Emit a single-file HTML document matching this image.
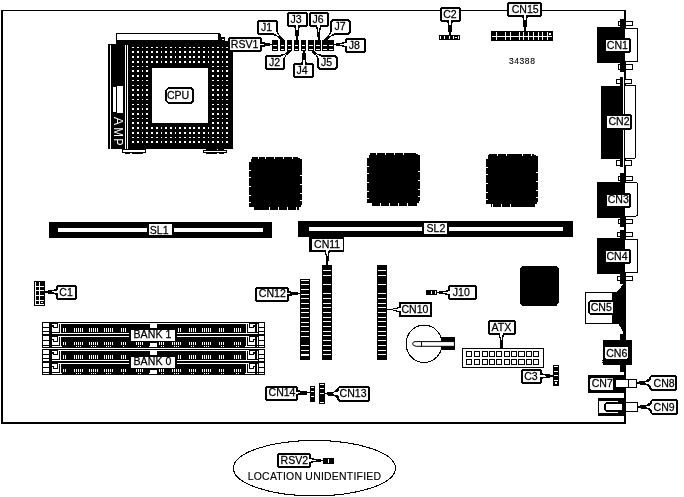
<!DOCTYPE html>
<html><head><meta charset="utf-8"><title>Motherboard layout</title>
<style>
html,body{margin:0;padding:0;background:#fff;}
body{width:684px;height:497px;overflow:hidden;font-family:"Liberation Sans",sans-serif;}
svg{display:block;filter:grayscale(1);}
svg rect,svg polygon,svg ellipse{shape-rendering:crispEdges;}
svg text{font-family:"Liberation Sans",sans-serif;}
</style></head><body>
<svg width="684" height="497" viewBox="0 0 684 497">
<rect x="0" y="0" width="684" height="497" fill="#fff"/>
<rect x="1" y="10" width="2" height="414" fill="#000"/>
<rect x="1" y="10" width="625" height="1.2" fill="#000"/>
<rect x="624" y="10" width="2" height="414" fill="#000"/>
<rect x="1" y="422" width="625" height="2" fill="#000"/>
<rect x="116" y="33" width="104" height="8" fill="#000"/>
<rect x="117" y="34" width="101" height="6" fill="#fff"/>
<rect x="220" y="34" width="1" height="7" fill="#000"/>
<rect x="221" y="37" width="4" height="4" fill="#000"/>
<rect x="222" y="39" width="2" height="1" fill="#fff"/>
<rect x="116" y="40" width="109" height="4" fill="#000"/>
<rect x="225" y="41" width="8" height="3" fill="#000"/>
<rect x="128" y="44" width="105" height="105" fill="#000"/>
<rect x="108" y="44" width="20.4" height="105" fill="#000"/>
<rect x="109.8" y="45" width="1.1" height="104" fill="#fff"/>
<rect x="125" y="45" width="1" height="104" fill="#fff"/>
<rect x="127.3" y="45" width="1" height="104" fill="#fff"/>
<rect x="113.2" y="87.2" width="2.8" height="24.4" fill="#fff"/>
<rect x="117" y="86.1" width="6.1" height="26.5" fill="#fff"/>
<rect x="132.3" y="46.7" width="1.75" height="1.6" fill="#fff"/>
<rect x="137.01" y="46.7" width="1.75" height="1.6" fill="#fff"/>
<rect x="141.71" y="46.7" width="1.75" height="1.6" fill="#fff"/>
<rect x="146.42" y="46.7" width="1.75" height="1.6" fill="#fff"/>
<rect x="151.12" y="46.7" width="1.75" height="1.6" fill="#fff"/>
<rect x="155.83" y="46.7" width="1.75" height="1.6" fill="#fff"/>
<rect x="160.53" y="46.7" width="1.75" height="1.6" fill="#fff"/>
<rect x="165.24" y="46.7" width="1.75" height="1.6" fill="#fff"/>
<rect x="169.94" y="46.7" width="1.75" height="1.6" fill="#fff"/>
<rect x="174.65" y="46.7" width="1.75" height="1.6" fill="#fff"/>
<rect x="179.35" y="46.7" width="1.75" height="1.6" fill="#fff"/>
<rect x="184.06" y="46.7" width="1.75" height="1.6" fill="#fff"/>
<rect x="188.76" y="46.7" width="1.75" height="1.6" fill="#fff"/>
<rect x="193.47" y="46.7" width="1.75" height="1.6" fill="#fff"/>
<rect x="198.17" y="46.7" width="1.75" height="1.6" fill="#fff"/>
<rect x="202.88" y="46.7" width="1.75" height="1.6" fill="#fff"/>
<rect x="207.58" y="46.7" width="1.75" height="1.6" fill="#fff"/>
<rect x="212.29" y="46.7" width="1.75" height="1.6" fill="#fff"/>
<rect x="216.99" y="46.7" width="1.75" height="1.6" fill="#fff"/>
<rect x="221.69" y="46.7" width="1.75" height="1.6" fill="#fff"/>
<rect x="226.4" y="46.7" width="1.75" height="1.6" fill="#fff"/>
<rect x="132.3" y="51.44" width="1.75" height="1.6" fill="#fff"/>
<rect x="137.01" y="51.44" width="1.75" height="1.6" fill="#fff"/>
<rect x="141.71" y="51.44" width="1.75" height="1.6" fill="#fff"/>
<rect x="146.42" y="51.44" width="1.75" height="1.6" fill="#fff"/>
<rect x="151.12" y="51.44" width="1.75" height="1.6" fill="#fff"/>
<rect x="155.83" y="51.44" width="1.75" height="1.6" fill="#fff"/>
<rect x="160.53" y="51.44" width="1.75" height="1.6" fill="#fff"/>
<rect x="165.24" y="51.44" width="1.75" height="1.6" fill="#fff"/>
<rect x="169.94" y="51.44" width="1.75" height="1.6" fill="#fff"/>
<rect x="174.65" y="51.44" width="1.75" height="1.6" fill="#fff"/>
<rect x="179.35" y="51.44" width="1.75" height="1.6" fill="#fff"/>
<rect x="184.06" y="51.44" width="1.75" height="1.6" fill="#fff"/>
<rect x="188.76" y="51.44" width="1.75" height="1.6" fill="#fff"/>
<rect x="193.47" y="51.44" width="1.75" height="1.6" fill="#fff"/>
<rect x="198.17" y="51.44" width="1.75" height="1.6" fill="#fff"/>
<rect x="202.88" y="51.44" width="1.75" height="1.6" fill="#fff"/>
<rect x="207.58" y="51.44" width="1.75" height="1.6" fill="#fff"/>
<rect x="212.29" y="51.44" width="1.75" height="1.6" fill="#fff"/>
<rect x="216.99" y="51.44" width="1.75" height="1.6" fill="#fff"/>
<rect x="221.69" y="51.44" width="1.75" height="1.6" fill="#fff"/>
<rect x="226.4" y="51.44" width="1.75" height="1.6" fill="#fff"/>
<rect x="132.3" y="56.17" width="1.75" height="1.6" fill="#fff"/>
<rect x="137.01" y="56.17" width="1.75" height="1.6" fill="#fff"/>
<rect x="141.71" y="56.17" width="1.75" height="1.6" fill="#fff"/>
<rect x="146.42" y="56.17" width="1.75" height="1.6" fill="#fff"/>
<rect x="151.12" y="56.17" width="1.75" height="1.6" fill="#fff"/>
<rect x="155.83" y="56.17" width="1.75" height="1.6" fill="#fff"/>
<rect x="160.53" y="56.17" width="1.75" height="1.6" fill="#fff"/>
<rect x="165.24" y="56.17" width="1.75" height="1.6" fill="#fff"/>
<rect x="169.94" y="56.17" width="1.75" height="1.6" fill="#fff"/>
<rect x="174.65" y="56.17" width="1.75" height="1.6" fill="#fff"/>
<rect x="179.35" y="56.17" width="1.75" height="1.6" fill="#fff"/>
<rect x="184.06" y="56.17" width="1.75" height="1.6" fill="#fff"/>
<rect x="188.76" y="56.17" width="1.75" height="1.6" fill="#fff"/>
<rect x="193.47" y="56.17" width="1.75" height="1.6" fill="#fff"/>
<rect x="198.17" y="56.17" width="1.75" height="1.6" fill="#fff"/>
<rect x="202.88" y="56.17" width="1.75" height="1.6" fill="#fff"/>
<rect x="207.58" y="56.17" width="1.75" height="1.6" fill="#fff"/>
<rect x="212.29" y="56.17" width="1.75" height="1.6" fill="#fff"/>
<rect x="216.99" y="56.17" width="1.75" height="1.6" fill="#fff"/>
<rect x="221.69" y="56.17" width="1.75" height="1.6" fill="#fff"/>
<rect x="226.4" y="56.17" width="1.75" height="1.6" fill="#fff"/>
<rect x="132.3" y="60.91" width="1.75" height="1.6" fill="#fff"/>
<rect x="137.01" y="60.91" width="1.75" height="1.6" fill="#fff"/>
<rect x="141.71" y="60.91" width="1.75" height="1.6" fill="#fff"/>
<rect x="146.42" y="60.91" width="1.75" height="1.6" fill="#fff"/>
<rect x="151.12" y="60.91" width="1.75" height="1.6" fill="#fff"/>
<rect x="155.83" y="60.91" width="1.75" height="1.6" fill="#fff"/>
<rect x="160.53" y="60.91" width="1.75" height="1.6" fill="#fff"/>
<rect x="165.24" y="60.91" width="1.75" height="1.6" fill="#fff"/>
<rect x="169.94" y="60.91" width="1.75" height="1.6" fill="#fff"/>
<rect x="174.65" y="60.91" width="1.75" height="1.6" fill="#fff"/>
<rect x="179.35" y="60.91" width="1.75" height="1.6" fill="#fff"/>
<rect x="184.06" y="60.91" width="1.75" height="1.6" fill="#fff"/>
<rect x="188.76" y="60.91" width="1.75" height="1.6" fill="#fff"/>
<rect x="193.47" y="60.91" width="1.75" height="1.6" fill="#fff"/>
<rect x="198.17" y="60.91" width="1.75" height="1.6" fill="#fff"/>
<rect x="202.88" y="60.91" width="1.75" height="1.6" fill="#fff"/>
<rect x="207.58" y="60.91" width="1.75" height="1.6" fill="#fff"/>
<rect x="212.29" y="60.91" width="1.75" height="1.6" fill="#fff"/>
<rect x="216.99" y="60.91" width="1.75" height="1.6" fill="#fff"/>
<rect x="221.69" y="60.91" width="1.75" height="1.6" fill="#fff"/>
<rect x="226.4" y="60.91" width="1.75" height="1.6" fill="#fff"/>
<rect x="132.3" y="65.64" width="1.75" height="1.6" fill="#fff"/>
<rect x="137.01" y="65.64" width="1.75" height="1.6" fill="#fff"/>
<rect x="141.71" y="65.64" width="1.75" height="1.6" fill="#fff"/>
<rect x="146.42" y="65.64" width="1.75" height="1.6" fill="#fff"/>
<rect x="212.29" y="65.64" width="1.75" height="1.6" fill="#fff"/>
<rect x="216.99" y="65.64" width="1.75" height="1.6" fill="#fff"/>
<rect x="221.69" y="65.64" width="1.75" height="1.6" fill="#fff"/>
<rect x="226.4" y="65.64" width="1.75" height="1.6" fill="#fff"/>
<rect x="132.3" y="70.38" width="1.75" height="1.6" fill="#fff"/>
<rect x="137.01" y="70.38" width="1.75" height="1.6" fill="#fff"/>
<rect x="141.71" y="70.38" width="1.75" height="1.6" fill="#fff"/>
<rect x="146.42" y="70.38" width="1.75" height="1.6" fill="#fff"/>
<rect x="212.29" y="70.38" width="1.75" height="1.6" fill="#fff"/>
<rect x="216.99" y="70.38" width="1.75" height="1.6" fill="#fff"/>
<rect x="221.69" y="70.38" width="1.75" height="1.6" fill="#fff"/>
<rect x="226.4" y="70.38" width="1.75" height="1.6" fill="#fff"/>
<rect x="132.3" y="75.11" width="1.75" height="1.6" fill="#fff"/>
<rect x="137.01" y="75.11" width="1.75" height="1.6" fill="#fff"/>
<rect x="141.71" y="75.11" width="1.75" height="1.6" fill="#fff"/>
<rect x="146.42" y="75.11" width="1.75" height="1.6" fill="#fff"/>
<rect x="212.29" y="75.11" width="1.75" height="1.6" fill="#fff"/>
<rect x="216.99" y="75.11" width="1.75" height="1.6" fill="#fff"/>
<rect x="221.69" y="75.11" width="1.75" height="1.6" fill="#fff"/>
<rect x="226.4" y="75.11" width="1.75" height="1.6" fill="#fff"/>
<rect x="132.3" y="79.84" width="1.75" height="1.6" fill="#fff"/>
<rect x="137.01" y="79.84" width="1.75" height="1.6" fill="#fff"/>
<rect x="141.71" y="79.84" width="1.75" height="1.6" fill="#fff"/>
<rect x="146.42" y="79.84" width="1.75" height="1.6" fill="#fff"/>
<rect x="212.29" y="79.84" width="1.75" height="1.6" fill="#fff"/>
<rect x="216.99" y="79.84" width="1.75" height="1.6" fill="#fff"/>
<rect x="221.69" y="79.84" width="1.75" height="1.6" fill="#fff"/>
<rect x="226.4" y="79.84" width="1.75" height="1.6" fill="#fff"/>
<rect x="132.3" y="84.58" width="1.75" height="1.6" fill="#fff"/>
<rect x="137.01" y="84.58" width="1.75" height="1.6" fill="#fff"/>
<rect x="141.71" y="84.58" width="1.75" height="1.6" fill="#fff"/>
<rect x="146.42" y="84.58" width="1.75" height="1.6" fill="#fff"/>
<rect x="212.29" y="84.58" width="1.75" height="1.6" fill="#fff"/>
<rect x="216.99" y="84.58" width="1.75" height="1.6" fill="#fff"/>
<rect x="221.69" y="84.58" width="1.75" height="1.6" fill="#fff"/>
<rect x="226.4" y="84.58" width="1.75" height="1.6" fill="#fff"/>
<rect x="132.3" y="89.31" width="1.75" height="1.6" fill="#fff"/>
<rect x="137.01" y="89.31" width="1.75" height="1.6" fill="#fff"/>
<rect x="141.71" y="89.31" width="1.75" height="1.6" fill="#fff"/>
<rect x="146.42" y="89.31" width="1.75" height="1.6" fill="#fff"/>
<rect x="212.29" y="89.31" width="1.75" height="1.6" fill="#fff"/>
<rect x="216.99" y="89.31" width="1.75" height="1.6" fill="#fff"/>
<rect x="221.69" y="89.31" width="1.75" height="1.6" fill="#fff"/>
<rect x="226.4" y="89.31" width="1.75" height="1.6" fill="#fff"/>
<rect x="132.3" y="94.05" width="1.75" height="1.6" fill="#fff"/>
<rect x="137.01" y="94.05" width="1.75" height="1.6" fill="#fff"/>
<rect x="141.71" y="94.05" width="1.75" height="1.6" fill="#fff"/>
<rect x="146.42" y="94.05" width="1.75" height="1.6" fill="#fff"/>
<rect x="212.29" y="94.05" width="1.75" height="1.6" fill="#fff"/>
<rect x="216.99" y="94.05" width="1.75" height="1.6" fill="#fff"/>
<rect x="221.69" y="94.05" width="1.75" height="1.6" fill="#fff"/>
<rect x="226.4" y="94.05" width="1.75" height="1.6" fill="#fff"/>
<rect x="132.3" y="98.78" width="1.75" height="1.6" fill="#fff"/>
<rect x="137.01" y="98.78" width="1.75" height="1.6" fill="#fff"/>
<rect x="141.71" y="98.78" width="1.75" height="1.6" fill="#fff"/>
<rect x="146.42" y="98.78" width="1.75" height="1.6" fill="#fff"/>
<rect x="212.29" y="98.78" width="1.75" height="1.6" fill="#fff"/>
<rect x="216.99" y="98.78" width="1.75" height="1.6" fill="#fff"/>
<rect x="221.69" y="98.78" width="1.75" height="1.6" fill="#fff"/>
<rect x="226.4" y="98.78" width="1.75" height="1.6" fill="#fff"/>
<rect x="132.3" y="103.52" width="1.75" height="1.6" fill="#fff"/>
<rect x="137.01" y="103.52" width="1.75" height="1.6" fill="#fff"/>
<rect x="141.71" y="103.52" width="1.75" height="1.6" fill="#fff"/>
<rect x="146.42" y="103.52" width="1.75" height="1.6" fill="#fff"/>
<rect x="212.29" y="103.52" width="1.75" height="1.6" fill="#fff"/>
<rect x="216.99" y="103.52" width="1.75" height="1.6" fill="#fff"/>
<rect x="221.69" y="103.52" width="1.75" height="1.6" fill="#fff"/>
<rect x="226.4" y="103.52" width="1.75" height="1.6" fill="#fff"/>
<rect x="132.3" y="108.26" width="1.75" height="1.6" fill="#fff"/>
<rect x="137.01" y="108.26" width="1.75" height="1.6" fill="#fff"/>
<rect x="141.71" y="108.26" width="1.75" height="1.6" fill="#fff"/>
<rect x="146.42" y="108.26" width="1.75" height="1.6" fill="#fff"/>
<rect x="212.29" y="108.26" width="1.75" height="1.6" fill="#fff"/>
<rect x="216.99" y="108.26" width="1.75" height="1.6" fill="#fff"/>
<rect x="221.69" y="108.26" width="1.75" height="1.6" fill="#fff"/>
<rect x="226.4" y="108.26" width="1.75" height="1.6" fill="#fff"/>
<rect x="132.3" y="112.99" width="1.75" height="1.6" fill="#fff"/>
<rect x="137.01" y="112.99" width="1.75" height="1.6" fill="#fff"/>
<rect x="141.71" y="112.99" width="1.75" height="1.6" fill="#fff"/>
<rect x="146.42" y="112.99" width="1.75" height="1.6" fill="#fff"/>
<rect x="212.29" y="112.99" width="1.75" height="1.6" fill="#fff"/>
<rect x="216.99" y="112.99" width="1.75" height="1.6" fill="#fff"/>
<rect x="221.69" y="112.99" width="1.75" height="1.6" fill="#fff"/>
<rect x="226.4" y="112.99" width="1.75" height="1.6" fill="#fff"/>
<rect x="132.3" y="117.73" width="1.75" height="1.6" fill="#fff"/>
<rect x="137.01" y="117.73" width="1.75" height="1.6" fill="#fff"/>
<rect x="141.71" y="117.73" width="1.75" height="1.6" fill="#fff"/>
<rect x="146.42" y="117.73" width="1.75" height="1.6" fill="#fff"/>
<rect x="212.29" y="117.73" width="1.75" height="1.6" fill="#fff"/>
<rect x="216.99" y="117.73" width="1.75" height="1.6" fill="#fff"/>
<rect x="221.69" y="117.73" width="1.75" height="1.6" fill="#fff"/>
<rect x="226.4" y="117.73" width="1.75" height="1.6" fill="#fff"/>
<rect x="132.3" y="122.46" width="1.75" height="1.6" fill="#fff"/>
<rect x="137.01" y="122.46" width="1.75" height="1.6" fill="#fff"/>
<rect x="141.71" y="122.46" width="1.75" height="1.6" fill="#fff"/>
<rect x="146.42" y="122.46" width="1.75" height="1.6" fill="#fff"/>
<rect x="212.29" y="122.46" width="1.75" height="1.6" fill="#fff"/>
<rect x="216.99" y="122.46" width="1.75" height="1.6" fill="#fff"/>
<rect x="221.69" y="122.46" width="1.75" height="1.6" fill="#fff"/>
<rect x="226.4" y="122.46" width="1.75" height="1.6" fill="#fff"/>
<rect x="132.3" y="127.2" width="1.75" height="1.6" fill="#fff"/>
<rect x="137.01" y="127.2" width="1.75" height="1.6" fill="#fff"/>
<rect x="141.71" y="127.2" width="1.75" height="1.6" fill="#fff"/>
<rect x="146.42" y="127.2" width="1.75" height="1.6" fill="#fff"/>
<rect x="151.12" y="127.2" width="1.75" height="1.6" fill="#fff"/>
<rect x="155.83" y="127.2" width="1.75" height="1.6" fill="#fff"/>
<rect x="160.53" y="127.2" width="1.75" height="1.6" fill="#fff"/>
<rect x="165.24" y="127.2" width="1.75" height="1.6" fill="#fff"/>
<rect x="169.94" y="127.2" width="1.75" height="1.6" fill="#fff"/>
<rect x="174.65" y="127.2" width="1.75" height="1.6" fill="#fff"/>
<rect x="179.35" y="127.2" width="1.75" height="1.6" fill="#fff"/>
<rect x="184.06" y="127.2" width="1.75" height="1.6" fill="#fff"/>
<rect x="188.76" y="127.2" width="1.75" height="1.6" fill="#fff"/>
<rect x="193.47" y="127.2" width="1.75" height="1.6" fill="#fff"/>
<rect x="198.17" y="127.2" width="1.75" height="1.6" fill="#fff"/>
<rect x="202.88" y="127.2" width="1.75" height="1.6" fill="#fff"/>
<rect x="207.58" y="127.2" width="1.75" height="1.6" fill="#fff"/>
<rect x="212.29" y="127.2" width="1.75" height="1.6" fill="#fff"/>
<rect x="216.99" y="127.2" width="1.75" height="1.6" fill="#fff"/>
<rect x="221.69" y="127.2" width="1.75" height="1.6" fill="#fff"/>
<rect x="226.4" y="127.2" width="1.75" height="1.6" fill="#fff"/>
<rect x="132.3" y="131.93" width="1.75" height="1.6" fill="#fff"/>
<rect x="137.01" y="131.93" width="1.75" height="1.6" fill="#fff"/>
<rect x="141.71" y="131.93" width="1.75" height="1.6" fill="#fff"/>
<rect x="146.42" y="131.93" width="1.75" height="1.6" fill="#fff"/>
<rect x="151.12" y="131.93" width="1.75" height="1.6" fill="#fff"/>
<rect x="155.83" y="131.93" width="1.75" height="1.6" fill="#fff"/>
<rect x="160.53" y="131.93" width="1.75" height="1.6" fill="#fff"/>
<rect x="165.24" y="131.93" width="1.75" height="1.6" fill="#fff"/>
<rect x="169.94" y="131.93" width="1.75" height="1.6" fill="#fff"/>
<rect x="174.65" y="131.93" width="1.75" height="1.6" fill="#fff"/>
<rect x="179.35" y="131.93" width="1.75" height="1.6" fill="#fff"/>
<rect x="184.06" y="131.93" width="1.75" height="1.6" fill="#fff"/>
<rect x="188.76" y="131.93" width="1.75" height="1.6" fill="#fff"/>
<rect x="193.47" y="131.93" width="1.75" height="1.6" fill="#fff"/>
<rect x="198.17" y="131.93" width="1.75" height="1.6" fill="#fff"/>
<rect x="202.88" y="131.93" width="1.75" height="1.6" fill="#fff"/>
<rect x="207.58" y="131.93" width="1.75" height="1.6" fill="#fff"/>
<rect x="212.29" y="131.93" width="1.75" height="1.6" fill="#fff"/>
<rect x="216.99" y="131.93" width="1.75" height="1.6" fill="#fff"/>
<rect x="221.69" y="131.93" width="1.75" height="1.6" fill="#fff"/>
<rect x="226.4" y="131.93" width="1.75" height="1.6" fill="#fff"/>
<rect x="132.3" y="136.67" width="1.75" height="1.6" fill="#fff"/>
<rect x="137.01" y="136.67" width="1.75" height="1.6" fill="#fff"/>
<rect x="141.71" y="136.67" width="1.75" height="1.6" fill="#fff"/>
<rect x="146.42" y="136.67" width="1.75" height="1.6" fill="#fff"/>
<rect x="151.12" y="136.67" width="1.75" height="1.6" fill="#fff"/>
<rect x="155.83" y="136.67" width="1.75" height="1.6" fill="#fff"/>
<rect x="160.53" y="136.67" width="1.75" height="1.6" fill="#fff"/>
<rect x="165.24" y="136.67" width="1.75" height="1.6" fill="#fff"/>
<rect x="169.94" y="136.67" width="1.75" height="1.6" fill="#fff"/>
<rect x="174.65" y="136.67" width="1.75" height="1.6" fill="#fff"/>
<rect x="179.35" y="136.67" width="1.75" height="1.6" fill="#fff"/>
<rect x="184.06" y="136.67" width="1.75" height="1.6" fill="#fff"/>
<rect x="188.76" y="136.67" width="1.75" height="1.6" fill="#fff"/>
<rect x="193.47" y="136.67" width="1.75" height="1.6" fill="#fff"/>
<rect x="198.17" y="136.67" width="1.75" height="1.6" fill="#fff"/>
<rect x="202.88" y="136.67" width="1.75" height="1.6" fill="#fff"/>
<rect x="207.58" y="136.67" width="1.75" height="1.6" fill="#fff"/>
<rect x="212.29" y="136.67" width="1.75" height="1.6" fill="#fff"/>
<rect x="216.99" y="136.67" width="1.75" height="1.6" fill="#fff"/>
<rect x="221.69" y="136.67" width="1.75" height="1.6" fill="#fff"/>
<rect x="226.4" y="136.67" width="1.75" height="1.6" fill="#fff"/>
<rect x="132.3" y="141.4" width="1.75" height="1.6" fill="#fff"/>
<rect x="137.01" y="141.4" width="1.75" height="1.6" fill="#fff"/>
<rect x="141.71" y="141.4" width="1.75" height="1.6" fill="#fff"/>
<rect x="146.42" y="141.4" width="1.75" height="1.6" fill="#fff"/>
<rect x="151.12" y="141.4" width="1.75" height="1.6" fill="#fff"/>
<rect x="155.83" y="141.4" width="1.75" height="1.6" fill="#fff"/>
<rect x="160.53" y="141.4" width="1.75" height="1.6" fill="#fff"/>
<rect x="165.24" y="141.4" width="1.75" height="1.6" fill="#fff"/>
<rect x="169.94" y="141.4" width="1.75" height="1.6" fill="#fff"/>
<rect x="174.65" y="141.4" width="1.75" height="1.6" fill="#fff"/>
<rect x="179.35" y="141.4" width="1.75" height="1.6" fill="#fff"/>
<rect x="184.06" y="141.4" width="1.75" height="1.6" fill="#fff"/>
<rect x="188.76" y="141.4" width="1.75" height="1.6" fill="#fff"/>
<rect x="193.47" y="141.4" width="1.75" height="1.6" fill="#fff"/>
<rect x="198.17" y="141.4" width="1.75" height="1.6" fill="#fff"/>
<rect x="202.88" y="141.4" width="1.75" height="1.6" fill="#fff"/>
<rect x="207.58" y="141.4" width="1.75" height="1.6" fill="#fff"/>
<rect x="212.29" y="141.4" width="1.75" height="1.6" fill="#fff"/>
<rect x="216.99" y="141.4" width="1.75" height="1.6" fill="#fff"/>
<rect x="221.69" y="141.4" width="1.75" height="1.6" fill="#fff"/>
<rect x="226.4" y="141.4" width="1.75" height="1.6" fill="#fff"/>
<rect x="152" y="67.8" width="55.5" height="55" fill="#fff"/>
<rect x="122" y="149" width="24" height="4" fill="#000"/>
<rect x="123" y="150" width="22" height="2" fill="#fff"/>
<rect x="125" y="153" width="5" height="1" fill="#000"/>
<rect x="132" y="153" width="11" height="1" fill="#000"/>
<rect x="206" y="149" width="18" height="1" fill="#000"/>
<rect x="203" y="150" width="24" height="3" fill="#000"/>
<rect x="204" y="151" width="22" height="1" fill="#fff"/>
<rect x="217" y="149" width="1" height="1" fill="#fff"/>
<rect x="206" y="153" width="11" height="1" fill="#000"/>
<rect x="219" y="153" width="5" height="1" fill="#000"/>
<text transform="translate(114.2,121) rotate(90) scale(1,1)" font-size="12.8" text-anchor="middle" fill="#fff" font-family="Liberation Sans, sans-serif">A</text>
<text transform="translate(114.2,132) rotate(90) scale(0.9,1)" font-size="12.8" text-anchor="middle" fill="#fff" font-family="Liberation Sans, sans-serif">M</text>
<text transform="translate(114.2,141.8) rotate(90) scale(0.86,1)" font-size="12.8" text-anchor="middle" fill="#fff" font-family="Liberation Sans, sans-serif">P</text>
<polygon points="168,87 191,87 194,90 194,101 191,104 168,104 165,101 165,90" fill="#000"/>
<polygon points="168.8,89 190.2,89 192,90.8 192,100.2 190.2,102 168.8,102 167,100.2 167,90.8" fill="#fff"/>
<text transform="translate(178.1,98.9) scale(0.96,1)" font-size="11" text-anchor="middle" fill="#000" stroke="#000" stroke-width="0.25" font-family="Liberation Sans, sans-serif">CPU</text>
<rect x="272" y="40" width="6" height="11" fill="#000"/>
<rect x="273" y="45" width="4" height="1" fill="#fff"/>
<rect x="273" y="49" width="4" height="1" fill="#fff"/>
<rect x="280" y="40" width="5" height="11" fill="#000"/>
<rect x="281" y="45" width="3" height="1" fill="#fff"/>
<rect x="281" y="49" width="3" height="1" fill="#fff"/>
<rect x="287" y="40" width="5" height="11" fill="#000"/>
<rect x="288" y="45" width="3" height="1" fill="#fff"/>
<rect x="288" y="49" width="3" height="1" fill="#fff"/>
<rect x="294" y="40" width="5" height="11" fill="#000"/>
<rect x="295" y="45" width="3" height="1" fill="#fff"/>
<rect x="295" y="49" width="3" height="1" fill="#fff"/>
<rect x="301" y="40" width="5" height="11" fill="#000"/>
<rect x="302" y="45" width="3" height="1" fill="#fff"/>
<rect x="302" y="49" width="3" height="1" fill="#fff"/>
<rect x="308" y="40" width="6" height="11" fill="#000"/>
<rect x="309" y="45" width="4" height="1" fill="#fff"/>
<rect x="309" y="49" width="4" height="1" fill="#fff"/>
<rect x="315" y="40" width="6" height="11" fill="#000"/>
<rect x="316" y="45" width="4" height="1" fill="#fff"/>
<rect x="316" y="49" width="4" height="1" fill="#fff"/>
<rect x="322" y="40" width="12" height="11" fill="#000"/>
<rect x="323" y="45" width="4" height="1" fill="#fff"/>
<rect x="323" y="49" width="4" height="1" fill="#fff"/>
<rect x="329" y="45" width="4" height="1" fill="#fff"/>
<rect x="329" y="49" width="4" height="1" fill="#fff"/>
<polygon points="229.2,37 260.8,37 262,38.2 262,50.8 260.8,52 229.2,52 228,50.8 228,38.2" fill="#000"/>
<polygon points="230,39 260,39 260,39 260,50 260,50 230,50 230,50 230,39" fill="#fff"/>
<polygon points="261.3,47.7 265.1,46.3 270,46.3 270.6,45 272,45 272,44 270.6,44 270,42.7 265.1,42.7 261.3,41.3" fill="#000"/>
<polygon points="259.4,45.5 261.6,45.3 264.4,44.75 264.4,44.25 261.6,43.7 259.4,43.5" fill="#fff"/>
<text transform="translate(244.6,47.9) scale(0.96,1)" font-size="11" text-anchor="middle" fill="#000" stroke="#000" stroke-width="0.25" font-family="Liberation Sans, sans-serif">RSV1</text>
<polygon points="258.2,20 276.8,20 278,21.2 278,33.8 276.8,35 258.2,35 257,33.8 257,21.2" fill="#000"/>
<polygon points="259,22 276,22 276,22 276,33 276,33 259,33 259,33 259,22" fill="#fff"/>
<polygon points="273.13,35.05 277.01,36.54 281.59,41.11 282.54,41 282.47,40.93 283.53,39.87 283.6,39.94 283.71,38.99 279.14,34.41 277.65,30.53" fill="#000"/>
<polygon points="272.98,32.51 274.75,33.85 278.96,36.71 279.31,36.36 276.45,32.15 275.11,30.38" fill="#fff"/>
<text transform="translate(266.6,30.9) scale(0.96,1)" font-size="11" text-anchor="middle" fill="#000" stroke="#000" stroke-width="0.25" font-family="Liberation Sans, sans-serif">J1</text>
<polygon points="266.2,55 283.8,55 285,56.2 285,68.8 283.8,70 266.2,70 265,68.8 265,56.2" fill="#000"/>
<polygon points="267,57 283,57 283,57 283,68 283,68 267,68 267,68 267,57" fill="#fff"/>
<polygon points="284.58,59.47 286.21,55.71 290.24,52.44 290.36,51.63 290.67,51.38 289.73,50.22 289.42,50.47 288.6,50.42 284.57,53.69 280.55,54.5" fill="#000"/>
<polygon points="282.04,59.35 283.56,57.73 286.71,53.95 286.4,53.56 282.04,55.87 280.15,57.02" fill="#fff"/>
<text transform="translate(274.5,65.9) scale(0.96,1)" font-size="11" text-anchor="middle" fill="#000" stroke="#000" stroke-width="0.25" font-family="Liberation Sans, sans-serif">J2</text>
<polygon points="288.2,12 306.8,12 308,13.2 308,25.8 306.8,27 288.2,27 287,25.8 287,13.2" fill="#000"/>
<polygon points="289,14 306,14 306,14 306,25 306,25 289,25 289,25 289,14" fill="#fff"/>
<polygon points="293.8,26.3 295.2,30.1 295.2,36.2 296,36.8 296,40.2 298,40.2 298,36.8 298.8,36.2 298.8,30.1 300.2,26.3" fill="#000"/>
<polygon points="295.5,24.4 295.8,26.6 296.75,31.6 297.25,31.6 298.2,26.6 298.5,24.4" fill="#fff"/>
<text transform="translate(296.1,22.9) scale(0.96,1)" font-size="11" text-anchor="middle" fill="#000" stroke="#000" stroke-width="0.25" font-family="Liberation Sans, sans-serif">J3</text>
<polygon points="294.2,63 312.8,63 314,64.2 314,76.8 312.8,78 294.2,78 293,76.8 293,64.2" fill="#000"/>
<polygon points="295,65 312,65 312,65 312,76 312,76 295,76 295,76 295,65" fill="#fff"/>
<polygon points="307.2,63.7 305.8,59.9 305.8,53.2 305,52.6 305,50.8 303,50.8 303,52.6 302.2,53.2 302.2,59.9 300.8,63.7" fill="#000"/>
<polygon points="305.5,65.6 305.2,63.4 304.25,58.4 303.75,58.4 302.8,63.4 302.5,65.6" fill="#fff"/>
<text transform="translate(302.1,73.9) scale(0.96,1)" font-size="11" text-anchor="middle" fill="#000" stroke="#000" stroke-width="0.25" font-family="Liberation Sans, sans-serif">J4</text>
<polygon points="319.6,55 335.4,55 338,57.6 338,67.4 335.4,70 319.6,70 317,67.4 317,57.6" fill="#000"/>
<polygon points="320.4,57 334.6,57 336,58.4 336,66.6 334.6,68 320.4,68 319,66.6 319,58.4" fill="#fff"/>
<polygon points="321.72,54.77 317.73,53.84 313.81,50.47 312.99,50.49 312.69,50.23 311.71,51.37 312.01,51.63 312.11,52.44 316.03,55.82 317.54,59.62" fill="#000"/>
<polygon points="322.05,57.3 320.18,56.09 315.91,53.66 315.58,54.04 318.62,57.91 320.09,59.57" fill="#fff"/>
<text transform="translate(326.5,65.9) scale(0.96,1)" font-size="11" text-anchor="middle" fill="#000" stroke="#000" stroke-width="0.25" font-family="Liberation Sans, sans-serif">J5</text>
<polygon points="310.2,12 327.8,12 329,13.2 329,25.8 327.8,27 310.2,27 309,25.8 309,13.2" fill="#000"/>
<polygon points="311,14 327,14 327,14 327,25 327,25 311,25 311,25 311,14" fill="#fff"/>
<polygon points="315.4,26.3 316.8,30.1 316.8,36.2 317.6,36.8 317.6,40.2 319.6,40.2 319.6,36.8 320.4,36.2 320.4,30.1 321.8,26.3" fill="#000"/>
<polygon points="317.1,24.4 317.4,26.6 318.35,31.6 318.85,31.6 319.8,26.6 320.1,24.4" fill="#fff"/>
<text transform="translate(318.1,22.9) scale(0.96,1)" font-size="11" text-anchor="middle" fill="#000" stroke="#000" stroke-width="0.25" font-family="Liberation Sans, sans-serif">J6</text>
<polygon points="332.6,19 348.4,19 351,21.6 351,32.4 348.4,35 332.6,35 330,32.4 330,21.6" fill="#000"/>
<polygon points="333.4,21 347.6,21 349,22.4 349,31.6 347.6,33 333.4,33 332,31.6 332,22.4" fill="#fff"/>
<polygon points="330.35,30.53 328.79,34.34 324.22,38.92 324.4,39.94 324.47,39.87 325.53,40.93 325.46,41 326.48,41.18 331.06,36.61 334.87,35.05" fill="#000"/>
<polygon points="332.89,30.38 331.55,32.15 328.69,36.36 329.04,36.71 333.25,33.85 335.02,32.51" fill="#fff"/>
<text transform="translate(340,29.9) scale(0.96,1)" font-size="11" text-anchor="middle" fill="#000" stroke="#000" stroke-width="0.25" font-family="Liberation Sans, sans-serif">J7</text>
<polygon points="346.2,38 364.8,38 366,39.2 366,51.8 364.8,53 346.2,53 345,51.8 345,39.2" fill="#000"/>
<polygon points="347,40 364,40 364,40 364,51 364,51 347,51 347,51 347,40" fill="#fff"/>
<polygon points="345.7,41.3 341.9,42.7 336,42.7 335.4,44 334,44 334,45 335.4,45 336,46.3 341.9,46.3 345.7,47.7" fill="#000"/>
<polygon points="347.6,43 345.4,43.3 340.4,44.25 340.4,44.75 345.4,45.7 347.6,46" fill="#fff"/>
<text transform="translate(354.3,48.9) scale(0.96,1)" font-size="11" text-anchor="middle" fill="#000" stroke="#000" stroke-width="0.25" font-family="Liberation Sans, sans-serif">J8</text>
<polygon points="441.2,7 459.8,7 461,8.2 461,20.8 459.8,22 441.2,22 440,20.8 440,8.2" fill="#000"/>
<polygon points="442,9 459,9 459,9 459,20 459,20 442,20 442,20 442,9" fill="#fff"/>
<polygon points="446.8,21.3 448.2,25.1 448.2,32.2 449.25,32.8 449.25,35.2 450.75,35.2 450.75,32.8 451.8,32.2 451.8,25.1 453.2,21.3" fill="#000"/>
<polygon points="448.5,19.4 448.8,21.6 449.75,26.6 450.25,26.6 451.2,21.6 451.5,19.4" fill="#fff"/>
<text transform="translate(449.9,17.9) scale(0.96,1)" font-size="11" text-anchor="middle" fill="#000" stroke="#000" stroke-width="0.25" font-family="Liberation Sans, sans-serif">C2</text>
<rect x="439.1" y="35" width="20.8" height="4.9" fill="#000"/>
<rect x="439.9" y="36" width="1" height="3" fill="#fff"/>
<rect x="443.9" y="36" width="1" height="3" fill="#fff"/>
<rect x="448.9" y="36" width="1" height="3" fill="#fff"/>
<rect x="452.8" y="36" width="1" height="3" fill="#fff"/>
<rect x="458" y="36" width="1" height="3" fill="#fff"/>
<rect x="455.2" y="37.1" width="1.6" height="0.8" fill="#fff"/>
<polygon points="508.2,2 540.8,2 542,3.2 542,15.8 540.8,17 508.2,17 507,15.8 507,3.2" fill="#000"/>
<polygon points="509,4 540,4 540,4 540,15 540,15 509,15 509,15 509,4" fill="#fff"/>
<polygon points="521.8,16.3 523.2,20.1 523.2,26.5 524.25,27.1 524.25,31.5 525.75,31.5 525.75,27.1 526.8,26.5 526.8,20.1 528.2,16.3" fill="#000"/>
<polygon points="523.5,14.4 523.8,16.6 524.75,21.6 525.25,21.6 526.2,16.6 526.5,14.4" fill="#fff"/>
<text transform="translate(525.2,12.9) scale(0.96,1)" font-size="11" text-anchor="middle" fill="#000" stroke="#000" stroke-width="0.25" font-family="Liberation Sans, sans-serif">CN15</text>
<rect x="491" y="31.3" width="62" height="9.5" fill="#000"/>
<rect x="492" y="35.7" width="60" height="1.1" fill="#fff"/>
<rect x="495.75" y="32.4" width="1.1" height="7.3" fill="#fff"/>
<rect x="504.75" y="32.4" width="1.1" height="7.3" fill="#fff"/>
<rect x="509.85" y="32.4" width="1.1" height="7.3" fill="#fff"/>
<rect x="518.75" y="32.4" width="1.1" height="7.3" fill="#fff"/>
<rect x="523.35" y="32.4" width="1.1" height="7.3" fill="#fff"/>
<rect x="527.95" y="32.4" width="1.1" height="7.3" fill="#fff"/>
<rect x="532.65" y="32.4" width="1.1" height="7.3" fill="#fff"/>
<rect x="537.85" y="32.4" width="1.1" height="7.3" fill="#fff"/>
<rect x="542.25" y="32.4" width="1.1" height="7.3" fill="#fff"/>
<rect x="547.15" y="32.4" width="1.1" height="7.3" fill="#fff"/>
<rect x="549.1" y="32.9" width="1.8" height="2" fill="#fff"/>
<text transform="translate(522.2,64) scale(0.95,1)" font-size="9" text-anchor="middle" fill="#000" stroke="#000" stroke-width="0.1" font-family="Liberation Sans, sans-serif" letter-spacing="0.6">34388</text>
<rect x="618.7" y="21.3" width="13.6" height="4.2" fill="#fff" stroke="#000" stroke-width="1"/>
<rect x="618.7" y="64.5" width="13.6" height="4.8" fill="#fff" stroke="#000" stroke-width="1"/>
<rect x="620.2" y="19.2" width="5.6" height="8.8" fill="#000"/>
<rect x="620.2" y="61.7" width="5.6" height="10.7" fill="#000"/>
<rect x="623.5" y="28.8" width="13.8" height="32.5" fill="#fff" stroke="#000" stroke-width="1"/>
<rect x="597" y="27" width="28" height="35.7" fill="#000"/>
<rect x="616.5" y="79.5" width="15" height="4" fill="#fff" stroke="#000" stroke-width="1"/>
<rect x="616.5" y="160.5" width="15" height="5" fill="#fff" stroke="#000" stroke-width="1"/>
<rect x="624.5" y="85.5" width="11" height="73" fill="#fff" stroke="#000" stroke-width="1" rx="1.5"/>
<rect x="601" y="86" width="22" height="73" fill="#000"/>
<rect x="620" y="77" width="3" height="10" fill="#000"/>
<rect x="620" y="158" width="3" height="9" fill="#000"/>
<rect x="623" y="78" width="1" height="88" fill="#fff"/>
<rect x="624" y="70" width="2" height="8" fill="#000"/>
<rect x="624" y="78" width="1" height="88" fill="#000"/>
<rect x="624" y="166" width="2" height="14" fill="#000"/>
<rect x="618.6" y="176.7" width="13.9" height="3.6" fill="#fff" stroke="#000" stroke-width="1"/>
<rect x="618.6" y="219.2" width="13.9" height="4.1" fill="#fff" stroke="#000" stroke-width="1"/>
<rect x="620.2" y="173" width="5.6" height="10.1" fill="#000"/>
<rect x="620.2" y="216.8" width="5.6" height="10.2" fill="#000"/>
<rect x="623.5" y="182.6" width="13.9" height="33.5" fill="#fff" stroke="#000" stroke-width="1" rx="1.2"/>
<rect x="597.1" y="182.1" width="27.9" height="35.7" fill="#000"/>
<rect x="617.7" y="232.6" width="14.8" height="4" fill="#fff" stroke="#000" stroke-width="1"/>
<rect x="617.7" y="276.5" width="14.8" height="3.8" fill="#fff" stroke="#000" stroke-width="1"/>
<rect x="620.2" y="229.6" width="5.6" height="9.2" fill="#000"/>
<rect x="620.2" y="272.6" width="5.6" height="11.4" fill="#000"/>
<rect x="623.5" y="239.5" width="14.1" height="32.6" fill="#fff" stroke="#000" stroke-width="1"/>
<rect x="597" y="237.8" width="28" height="35.8" fill="#000"/>
<polygon points="605.2,38 629.8,38 631,39.2 631,51.8 629.8,53 605.2,53 604,51.8 604,39.2" fill="#000"/>
<polygon points="606,40 629,40 629,40 629,51 629,51 606,51 606,51 606,40" fill="#fff"/>
<text transform="translate(617.4,48.9) scale(0.96,1)" font-size="11" text-anchor="middle" fill="#000" stroke="#000" stroke-width="0.25" font-family="Liberation Sans, sans-serif">CN1</text>
<polygon points="607,114 630,114 632,116 632,128 630,130 607,130 605,128 605,116" fill="#000"/>
<polygon points="607.8,116 629.2,116 630,116.8 630,127.2 629.2,128 607.8,128 607,127.2 607,116.8" fill="#fff"/>
<text transform="translate(619,124.9) scale(0.96,1)" font-size="11" text-anchor="middle" fill="#000" stroke="#000" stroke-width="0.25" font-family="Liberation Sans, sans-serif">CN2</text>
<polygon points="606.2,193 629.8,193 631,194.2 631,206.8 629.8,208 606.2,208 605,206.8 605,194.2" fill="#000"/>
<polygon points="607,195 629,195 629,195 629,206 629,206 607,206 607,206 607,195" fill="#fff"/>
<text transform="translate(618.2,203.3) scale(0.96,1)" font-size="11" text-anchor="middle" fill="#000" stroke="#000" stroke-width="0.25" font-family="Liberation Sans, sans-serif">CN3</text>
<polygon points="605.2,249 629.8,249 631,250.2 631,262.8 629.8,264 605.2,264 604,262.8 604,250.2" fill="#000"/>
<polygon points="606,251 629,251 629,251 629,262 629,262 606,262 606,262 606,251" fill="#fff"/>
<text transform="translate(617,259.9) scale(0.96,1)" font-size="11" text-anchor="middle" fill="#000" stroke="#000" stroke-width="0.25" font-family="Liberation Sans, sans-serif">CN4</text>
<rect x="585.5" y="292.5" width="27.5" height="31" fill="#fff" stroke="#000" stroke-width="1"/>
<polygon points="612,292 617,292 619.3,289 621,287 623,284 626,284 626,336 623.7,334 621,328 618.8,325.8 618.8,324 612,324" fill="#000"/>
<polygon points="590,300 613,300 615,302 615,313 613,315 590,315 588,313 588,302" fill="#000"/>
<polygon points="590.8,302 612.2,302 613,302.8 613,312.2 612.2,313 590.8,313 590,312.2 590,302.8" fill="#fff"/>
<text transform="translate(601.2,310.9) scale(0.96,1)" font-size="11" text-anchor="middle" fill="#000" stroke="#000" stroke-width="0.25" font-family="Liberation Sans, sans-serif">CN5</text>
<rect x="613" y="300" width="3" height="15" fill="#000"/>
<rect x="620.1" y="334.1" width="5.9" height="37.7" fill="#000"/>
<rect x="603.1" y="340" width="28.9" height="24.8" fill="#000"/>
<rect x="602" y="360" width="1" height="1" fill="#000"/>
<rect x="602" y="362" width="1" height="1" fill="#000"/>
<rect x="605" y="347" width="23.1" height="11.8" rx="1.6" fill="#fff"/>
<text transform="translate(616.8,356.9) scale(0.96,1)" font-size="11" text-anchor="middle" fill="#000" stroke="#000" stroke-width="0.25" font-family="Liberation Sans, sans-serif">CN6</text>
<rect x="615.5" y="379.5" width="21" height="8" fill="#fff" stroke="#000" stroke-width="1"/>
<rect x="588" y="375" width="38" height="18" fill="#000"/>
<polygon points="591,378 612,378 613,379 613,389 612,390 591,390 590,389 590,379" fill="#fff"/>
<text transform="translate(602.2,386.9) scale(0.96,1)" font-size="11" text-anchor="middle" fill="#000" stroke="#000" stroke-width="0.25" font-family="Liberation Sans, sans-serif">CN7</text>
<rect x="616" y="380" width="12" height="7" fill="#fff"/>
<rect x="628" y="379" width="1" height="9" fill="#000"/>
<polygon points="651.2,375 675.8,375 677,376.2 677,389.8 675.8,391 651.2,391 649.2,389 649.2,387.3 645.7,384.8 645.7,380.8 649.2,378.3 649.2,377" fill="#000"/>
<polygon points="652,377 675,377 675,389 652,389 651.2,388.2 651.2,386.2 648.3,383.7 648.3,381.9 651.2,379.4 651.2,377.8" fill="#fff"/>
<polygon points="646.4,380.6 645.5,380.8 639.8,380.8 639.2,381.9 636.8,381.9 636.8,383.7 639.2,383.7 639.8,384.8 645.5,384.8 646.4,385" fill="#000"/>
<polygon points="648.9,381.5 646.1,381.76 645.1,382.55 645.1,383.05 646.1,383.84 648.9,384.1" fill="#fff"/>
<text transform="translate(664.1,386.9) scale(0.96,1)" font-size="11" text-anchor="middle" fill="#000" stroke="#000" stroke-width="0.25" font-family="Liberation Sans, sans-serif">CN8</text>
<rect x="625.5" y="402.5" width="12" height="9" fill="#fff" stroke="#000" stroke-width="1"/>
<rect x="598" y="398" width="28" height="18" fill="#000"/>
<rect x="599" y="401" width="19" height="12" fill="#fff"/>
<rect x="606" y="402" width="12" height="2" fill="#000"/>
<rect x="606" y="410" width="12" height="2" fill="#000"/>
<rect x="605" y="403" width="2" height="2" fill="#000"/>
<rect x="605" y="409" width="2" height="2" fill="#000"/>
<rect x="604" y="404" width="2" height="6" fill="#000"/>
<rect x="606" y="404" width="16" height="6" fill="#fff"/>
<polygon points="652.1,399 676.8,399 678,400.2 678,413.8 676.8,415 652.1,415 650.1,413 650.1,411.3 646.6,408.8 646.6,404.8 650.1,402.3 650.1,401" fill="#000"/>
<polygon points="652.9,401 676,401 676,413 652.9,413 652.1,412.2 652.1,410.2 649.2,407.7 649.2,405.9 652.1,403.4 652.1,401.8" fill="#fff"/>
<polygon points="647.3,404.6 646.4,404.8 640.8,404.8 640.2,405.9 637.8,405.9 637.8,407.7 640.2,407.7 640.8,408.8 646.4,408.8 647.3,409" fill="#000"/>
<polygon points="649.8,405.5 647,405.76 646,406.55 646,407.05 647,407.84 649.8,408.1" fill="#fff"/>
<text transform="translate(664.1,410.9) scale(0.96,1)" font-size="11" text-anchor="middle" fill="#000" stroke="#000" stroke-width="0.25" font-family="Liberation Sans, sans-serif">CN9</text>
<polygon points="252.1,156.7 297.1,156.7 300.7,159.1 302.3,159.9 302.3,205 300.7,205 300.7,207 299.3,207 299.3,210 253.9,210 253.9,207 248.9,207 248.9,162.1 250.9,162.1 250.9,158.5 252.1,158.5" fill="#000" shape-rendering="crispEdges"/>
<rect x="257.8" y="156.7" width="1" height="2.2" fill="#fff"/>
<rect x="265.3" y="156.7" width="1" height="2.2" fill="#fff"/>
<rect x="274" y="156.7" width="1" height="2.2" fill="#fff"/>
<rect x="283.2" y="156.7" width="1" height="2.2" fill="#fff"/>
<rect x="291.9" y="156.7" width="1" height="2.2" fill="#fff"/>
<rect x="268.8" y="207.4" width="1" height="2.6" fill="#fff"/>
<rect x="277.8" y="207.4" width="1" height="2.6" fill="#fff"/>
<rect x="287" y="207.4" width="1" height="2.6" fill="#fff"/>
<rect x="295.8" y="207.4" width="1" height="2.6" fill="#fff"/>
<rect x="248.9" y="169.8" width="2.2" height="1" fill="#fff"/>
<rect x="248.9" y="177.1" width="2.2" height="1" fill="#fff"/>
<rect x="248.9" y="185.8" width="2.2" height="1" fill="#fff"/>
<rect x="248.9" y="195" width="2.2" height="1" fill="#fff"/>
<rect x="248.9" y="202.1" width="2.2" height="1" fill="#fff"/>
<rect x="299.9" y="175" width="2.4" height="1" fill="#fff"/>
<rect x="299.9" y="184.1" width="2.4" height="1" fill="#fff"/>
<rect x="299.9" y="192.9" width="2.4" height="1" fill="#fff"/>
<rect x="299.9" y="199.9" width="2.4" height="1" fill="#fff"/>
<polygon points="370.1,152.7 415.1,152.7 418.7,155.1 420.3,155.9 420.3,201 418.7,201 418.7,203 417.3,203 417.3,206 371.9,206 371.9,203 366.9,203 366.9,158.1 368.9,158.1 368.9,154.5 370.1,154.5" fill="#000" shape-rendering="crispEdges"/>
<rect x="375.8" y="152.7" width="1" height="2.2" fill="#fff"/>
<rect x="385" y="152.7" width="1" height="2.2" fill="#fff"/>
<rect x="393.9" y="152.7" width="1" height="2.2" fill="#fff"/>
<rect x="402.9" y="152.7" width="1" height="2.2" fill="#fff"/>
<rect x="379.8" y="203.4" width="1" height="2.6" fill="#fff"/>
<rect x="388.8" y="203.4" width="1" height="2.6" fill="#fff"/>
<rect x="398" y="203.4" width="1" height="2.6" fill="#fff"/>
<rect x="406.8" y="203.4" width="1" height="2.6" fill="#fff"/>
<rect x="366.9" y="165.8" width="2.2" height="1" fill="#fff"/>
<rect x="366.9" y="173.1" width="2.2" height="1" fill="#fff"/>
<rect x="366.9" y="181.8" width="2.2" height="1" fill="#fff"/>
<rect x="366.9" y="191" width="2.2" height="1" fill="#fff"/>
<rect x="366.9" y="198.1" width="2.2" height="1" fill="#fff"/>
<rect x="417.9" y="171" width="2.4" height="1" fill="#fff"/>
<rect x="417.9" y="180.1" width="2.4" height="1" fill="#fff"/>
<rect x="417.9" y="188.9" width="2.4" height="1" fill="#fff"/>
<rect x="417.9" y="195.9" width="2.4" height="1" fill="#fff"/>
<polygon points="489.1,153.6 533.1,153.6 536.7,156 538.3,156.8 538.3,202 536.7,202 536.7,204 535.3,204 535.3,207 490.9,207 490.9,204 485.9,204 485.9,159 487.9,159 487.9,155.4 489.1,155.4" fill="#000" shape-rendering="crispEdges"/>
<rect x="496.9" y="153.6" width="1" height="2.2" fill="#fff"/>
<rect x="505.8" y="153.6" width="1" height="2.2" fill="#fff"/>
<rect x="522" y="153.6" width="1" height="2.2" fill="#fff"/>
<rect x="531.1" y="153.6" width="1" height="2.2" fill="#fff"/>
<rect x="491.7" y="204.4" width="1" height="2.6" fill="#fff"/>
<rect x="500.9" y="204.4" width="1" height="2.6" fill="#fff"/>
<rect x="510" y="204.4" width="1" height="2.6" fill="#fff"/>
<rect x="485.9" y="166.7" width="2.2" height="1" fill="#fff"/>
<rect x="485.9" y="173.8" width="2.2" height="1" fill="#fff"/>
<rect x="485.9" y="182.9" width="2.2" height="1" fill="#fff"/>
<rect x="485.9" y="192.1" width="2.2" height="1" fill="#fff"/>
<rect x="485.9" y="199.1" width="2.2" height="1" fill="#fff"/>
<rect x="535.9" y="172.1" width="2.4" height="1" fill="#fff"/>
<rect x="535.9" y="181.1" width="2.4" height="1" fill="#fff"/>
<rect x="535.9" y="190" width="2.4" height="1" fill="#fff"/>
<rect x="535.9" y="197" width="2.4" height="1" fill="#fff"/>
<polygon points="522.4,265.9 556.6,265.9 558.9,268.2 558.9,302.6 556.4,305.7 522.6,305.7 520.1,303.4 520.1,268.2" fill="#000"/>
<rect x="49" y="222" width="223.4" height="16" fill="#000"/>
<rect x="57.8" y="227.9" width="205.2" height="4.1" fill="#fff"/>
<rect x="146.9" y="227" width="27" height="6" fill="#000"/>
<rect x="148.9" y="223.9" width="23.1" height="10.9" fill="#fff"/>
<text transform="translate(159.2,233.9) scale(0.96,1)" font-size="11" text-anchor="middle" fill="#000" stroke="#000" stroke-width="0.25" font-family="Liberation Sans, sans-serif">SL1</text>
<rect x="298.1" y="221.1" width="274.9" height="15.9" fill="#000"/>
<rect x="308.9" y="227" width="254.3" height="4.1" fill="#fff"/>
<rect x="421.9" y="226" width="27" height="6" fill="#000"/>
<rect x="423.9" y="222.9" width="23.2" height="11" fill="#fff"/>
<text transform="translate(435.9,232.2) scale(0.96,1)" font-size="11" text-anchor="middle" fill="#000" stroke="#000" stroke-width="0.25" font-family="Liberation Sans, sans-serif">SL2</text>
<rect x="322" y="265" width="10" height="95" fill="#000"/>
<rect x="323.15" y="270" width="7.85" height="1" fill="#fff"/>
<rect x="323.15" y="275.1" width="7.85" height="1" fill="#fff"/>
<rect x="323.15" y="284.1" width="7.85" height="1" fill="#fff"/>
<rect x="323.15" y="293" width="7.85" height="1" fill="#fff"/>
<rect x="323.15" y="298" width="7.85" height="1" fill="#fff"/>
<rect x="323.15" y="303" width="7.85" height="1" fill="#fff"/>
<rect x="323.15" y="307" width="7.85" height="1" fill="#fff"/>
<rect x="323.15" y="312" width="7.85" height="1" fill="#fff"/>
<rect x="323.15" y="317" width="7.85" height="1" fill="#fff"/>
<rect x="323.15" y="321" width="7.85" height="1" fill="#fff"/>
<rect x="323.15" y="326" width="7.85" height="1" fill="#fff"/>
<rect x="323.15" y="331" width="7.85" height="1" fill="#fff"/>
<rect x="323.15" y="335" width="7.85" height="1" fill="#fff"/>
<rect x="323.15" y="340.1" width="7.85" height="1" fill="#fff"/>
<rect x="323.15" y="345" width="7.85" height="1" fill="#fff"/>
<rect x="323.15" y="350" width="7.85" height="1" fill="#fff"/>
<rect x="323.15" y="354" width="7.85" height="1" fill="#fff"/>
<rect x="377" y="265" width="10" height="95" fill="#000"/>
<rect x="378.15" y="270" width="7.85" height="1" fill="#fff"/>
<rect x="378.15" y="275.1" width="7.85" height="1" fill="#fff"/>
<rect x="378.15" y="284.1" width="7.85" height="1" fill="#fff"/>
<rect x="378.15" y="293" width="7.85" height="1" fill="#fff"/>
<rect x="378.15" y="298" width="7.85" height="1" fill="#fff"/>
<rect x="378.15" y="303" width="7.85" height="1" fill="#fff"/>
<rect x="378.15" y="307" width="7.85" height="1" fill="#fff"/>
<rect x="378.15" y="312" width="7.85" height="1" fill="#fff"/>
<rect x="378.15" y="317" width="7.85" height="1" fill="#fff"/>
<rect x="378.15" y="321" width="7.85" height="1" fill="#fff"/>
<rect x="378.15" y="326" width="7.85" height="1" fill="#fff"/>
<rect x="378.15" y="331" width="7.85" height="1" fill="#fff"/>
<rect x="378.15" y="335" width="7.85" height="1" fill="#fff"/>
<rect x="378.15" y="340.1" width="7.85" height="1" fill="#fff"/>
<rect x="378.15" y="345" width="7.85" height="1" fill="#fff"/>
<rect x="378.15" y="350" width="7.85" height="1" fill="#fff"/>
<rect x="378.15" y="354" width="7.85" height="1" fill="#fff"/>
<rect x="299.9" y="279" width="10" height="81" fill="#000"/>
<rect x="301.05" y="280" width="7.85" height="1" fill="#fff"/>
<rect x="301.05" y="284.1" width="7.85" height="1" fill="#fff"/>
<rect x="301.05" y="289" width="7.85" height="1" fill="#fff"/>
<rect x="301.05" y="293.9" width="7.85" height="1" fill="#fff"/>
<rect x="301.05" y="298" width="7.85" height="1" fill="#fff"/>
<rect x="301.05" y="303" width="7.85" height="1" fill="#fff"/>
<rect x="301.05" y="308" width="7.85" height="1" fill="#fff"/>
<rect x="301.05" y="312" width="7.85" height="1" fill="#fff"/>
<rect x="301.05" y="317" width="7.85" height="1" fill="#fff"/>
<rect x="301.05" y="322" width="7.85" height="1" fill="#fff"/>
<rect x="301.05" y="326" width="7.85" height="1" fill="#fff"/>
<rect x="301.05" y="331" width="7.85" height="1" fill="#fff"/>
<rect x="301.05" y="336.1" width="7.85" height="1" fill="#fff"/>
<rect x="301.05" y="345" width="7.85" height="1" fill="#fff"/>
<rect x="301.05" y="350" width="7.85" height="1" fill="#fff"/>
<rect x="301.05" y="353.85" width="7.85" height="1.9" fill="#fff"/>
<rect x="309.1" y="236.5" width="35.2" height="15.4" fill="#000"/>
<rect x="311.7" y="239" width="30.8" height="11.3" fill="#fff"/>
<polygon points="324.4,251.4 325.5,254.9 325.5,260.9 326.45,261.5 326.45,265.4 327.95,265.4 327.95,261.5 328.9,260.9 328.9,254.9 330,251.4" fill="#000"/>
<polygon points="325.7,249.7 326,251.7 326.95,256.4 327.45,256.4 328.4,251.7 328.7,249.7" fill="#fff"/>
<text transform="translate(327.1,248.2) scale(0.96,1)" font-size="11" text-anchor="middle" fill="#000" stroke="#000" stroke-width="0.25" font-family="Liberation Sans, sans-serif">CN11</text>
<polygon points="256.2,287 287.8,287 289,288.2 289,300.8 287.8,302 256.2,302 255,300.8 255,288.2" fill="#000"/>
<polygon points="257,289 287,289 287,289 287,300 287,300 257,300 257,300 257,289" fill="#fff"/>
<polygon points="288.3,296.8 292.1,295.4 297.3,295.4 297.9,294.2 300.3,294.2 300.3,293 297.9,293 297.3,291.8 292.1,291.8 288.3,290.4" fill="#000"/>
<polygon points="286.4,294.5 288.6,294.32 290,293.85 290,293.35 288.6,292.88 286.4,292.7" fill="#fff"/>
<text transform="translate(272.3,296.9) scale(0.96,1)" font-size="11" text-anchor="middle" fill="#000" stroke="#000" stroke-width="0.25" font-family="Liberation Sans, sans-serif">CN12</text>
<polygon points="399.6,302 431.4,302 432,302.6 432,316.4 431.4,317 399.6,317 399,316.4 399,302.6" fill="#000"/>
<polygon points="401,304 430,304 430,304 430,315 430,315 401,315 401,315 401,304" fill="#fff"/>
<text transform="translate(414.9,312.9) scale(0.96,1)" font-size="11" text-anchor="middle" fill="#000" stroke="#000" stroke-width="0.25" font-family="Liberation Sans, sans-serif">CN10</text>
<polygon points="400.4,306.6 391.5,309 386.8,309 386.8,310.2 391.5,310.2 400.4,312.8" fill="#000"/>
<polygon points="400.8,307.9 393,309.6 400.8,311.5" fill="#fff"/>
<rect x="426" y="290" width="11" height="5" fill="#000"/>
<rect x="431" y="291" width="1" height="3" fill="#fff"/>
<rect x="434.5" y="291" width="1" height="3" fill="#fff"/>
<polygon points="449.2,285 475.8,285 477,286.2 477,298.8 475.8,300 449.2,300 448,298.8 448,286.2" fill="#000"/>
<polygon points="450,287 475,287 475,287 475,298 475,298 450,298 450,298 450,287" fill="#fff"/>
<polygon points="448.7,289.4 444.9,290.8 439.5,290.8 438.9,292.1 437,292.1 437,293.1 438.9,293.1 439.5,294.4 444.9,294.4 448.7,295.8" fill="#000"/>
<polygon points="450.6,291.1 448.4,291.4 443.4,292.35 443.4,292.85 448.4,293.8 450.6,294.1" fill="#fff"/>
<text transform="translate(461.3,295.9) scale(0.96,1)" font-size="11" text-anchor="middle" fill="#000" stroke="#000" stroke-width="0.25" font-family="Liberation Sans, sans-serif">J10</text>
<ellipse cx="424.1" cy="343.8" rx="18" ry="18.7" fill="#fff" stroke="#000" stroke-width="1.05"/>
<rect x="442.1" y="337.1" width="12.9" height="12.9" fill="#000"/>
<path d="M454.4 341.6 H415 Q412.6 341.9 412.6 343.9 Q412.6 345.9 416.5 346.3 H454.4 Z" fill="#fff" stroke="#000" stroke-width="1"/>
<rect x="420.6" y="341.4" width="1.1" height="5.2" fill="#000"/>
<polygon points="489.2,320 514.8,320 516,321.2 516,333.8 514.8,335 489.2,335 488,333.8 488,321.2" fill="#000"/>
<polygon points="490,322 514,322 514,322 514,333 514,333 490,333 490,333 490,322" fill="#fff"/>
<polygon points="498.1,334.3 499.5,338.1 499.5,347.4 500.55,348 500.55,348.4 502.05,348.4 502.05,348 503.1,347.4 503.1,338.1 504.5,334.3" fill="#000"/>
<polygon points="499.8,332.4 500.1,334.6 501.05,339.6 501.55,339.6 502.5,334.6 502.8,332.4" fill="#fff"/>
<text transform="translate(501.4,330.9) scale(0.96,1)" font-size="11" text-anchor="middle" fill="#000" stroke="#000" stroke-width="0.25" font-family="Liberation Sans, sans-serif">ATX</text>
<rect x="462.5" y="348.5" width="81" height="19" fill="#fff" stroke="#000" stroke-width="1"/>
<rect x="466.5" y="351.5" width="5" height="5" fill="#fff" stroke="#000" stroke-width="1"/>
<rect x="466.5" y="359.5" width="5" height="5" fill="#fff" stroke="#000" stroke-width="1"/>
<rect x="474.5" y="351.5" width="5" height="5" fill="#fff" stroke="#000" stroke-width="1"/>
<rect x="474.5" y="359.5" width="5" height="5" fill="#fff" stroke="#000" stroke-width="1"/>
<rect x="482.5" y="351.5" width="5" height="5" fill="#fff" stroke="#000" stroke-width="1"/>
<rect x="482.5" y="359.5" width="5" height="5" fill="#fff" stroke="#000" stroke-width="1"/>
<rect x="489.5" y="351.5" width="5" height="5" fill="#fff" stroke="#000" stroke-width="1"/>
<rect x="489.5" y="359.5" width="5" height="5" fill="#fff" stroke="#000" stroke-width="1"/>
<rect x="496.5" y="351.5" width="5" height="5" fill="#fff" stroke="#000" stroke-width="1"/>
<rect x="496.5" y="359.5" width="5" height="5" fill="#fff" stroke="#000" stroke-width="1"/>
<rect x="504.5" y="351.5" width="5" height="5" fill="#fff" stroke="#000" stroke-width="1"/>
<rect x="504.5" y="359.5" width="5" height="5" fill="#fff" stroke="#000" stroke-width="1"/>
<rect x="511.5" y="351.5" width="5" height="5" fill="#fff" stroke="#000" stroke-width="1"/>
<rect x="511.5" y="359.5" width="5" height="5" fill="#fff" stroke="#000" stroke-width="1"/>
<rect x="518.5" y="351.5" width="6" height="5" fill="#fff" stroke="#000" stroke-width="1"/>
<rect x="518.5" y="359.5" width="6" height="5" fill="#fff" stroke="#000" stroke-width="1"/>
<rect x="526.5" y="351.5" width="5" height="5" fill="#fff" stroke="#000" stroke-width="1"/>
<rect x="526.5" y="359.5" width="5" height="5" fill="#fff" stroke="#000" stroke-width="1"/>
<rect x="533.5" y="351.5" width="5" height="5" fill="#fff" stroke="#000" stroke-width="1"/>
<rect x="533.5" y="359.5" width="5" height="5" fill="#fff" stroke="#000" stroke-width="1"/>
<polygon points="522.2,369 540.8,369 542,370.2 542,382.8 540.8,384 522.2,384 521,382.8 521,370.2" fill="#000"/>
<polygon points="523,371 540,371 540,371 540,382 540,382 523,382 523,382 523,371" fill="#fff"/>
<polygon points="541.3,379.3 545.1,377.9 550.2,377.9 550.8,376.85 553.2,376.85 553.2,375.35 550.8,375.35 550.2,374.3 545.1,374.3 541.3,372.9" fill="#000"/>
<polygon points="539.4,377.6 541.6,377.3 546.6,376.35 546.6,375.85 541.6,374.9 539.4,374.6" fill="#fff"/>
<text transform="translate(530.9,379.9) scale(0.96,1)" font-size="11" text-anchor="middle" fill="#000" stroke="#000" stroke-width="0.25" font-family="Liberation Sans, sans-serif">C3</text>
<rect x="552.9" y="364.9" width="6.1" height="21.1" fill="#000"/>
<rect x="554" y="365.85" width="4" height="1.1" fill="#fff"/>
<rect x="554" y="370.85" width="4" height="1.1" fill="#fff"/>
<rect x="554" y="375.05" width="4" height="1.1" fill="#fff"/>
<rect x="554" y="379.85" width="4" height="1.1" fill="#fff"/>
<rect x="554.9" y="382.2" width="2.2" height="1.9" fill="#fff"/>
<rect x="34" y="280.9" width="11.2" height="25.1" fill="#000"/>
<rect x="35.1" y="282" width="1" height="23" fill="#fff"/>
<rect x="38.7" y="282" width="1" height="23" fill="#fff"/>
<rect x="35.1" y="285.9" width="9.1" height="1" fill="#fff"/>
<rect x="35.1" y="290.4" width="9.1" height="1" fill="#fff"/>
<rect x="35.1" y="295" width="9.1" height="1" fill="#fff"/>
<rect x="35.1" y="299.7" width="9.1" height="1" fill="#fff"/>
<rect x="35.1" y="304" width="9.1" height="1" fill="#fff"/>
<rect x="41" y="301.6" width="2.4" height="1" fill="#fff"/>
<polygon points="57.2,285 75.8,285 77,286.2 77,298.8 75.8,300 57.2,300 56,298.8 56,286.2" fill="#000"/>
<polygon points="58,287 75,287 75,287 75,298 75,298 58,298 58,298 58,287" fill="#fff"/>
<polygon points="56.7,288.6 52.9,290 48.2,290 47.6,291.05 45.2,291.05 45.2,292.55 47.6,292.55 48.2,293.6 52.9,293.6 56.7,295" fill="#000"/>
<polygon points="58.6,290.3 56.4,290.6 51.4,291.55 51.4,292.05 56.4,293 58.6,293.3" fill="#fff"/>
<text transform="translate(66,295.9) scale(0.96,1)" font-size="11" text-anchor="middle" fill="#000" stroke="#000" stroke-width="0.25" font-family="Liberation Sans, sans-serif">C1</text>
<rect x="42" y="322" width="223" height="26" fill="#000"/>
<rect x="43" y="323" width="6" height="4" fill="#fff"/>
<rect x="43" y="328" width="6" height="3" fill="#fff"/>
<rect x="43" y="332" width="6" height="2" fill="#fff"/>
<rect x="259" y="323" width="5" height="4" fill="#fff"/>
<rect x="259" y="328" width="5" height="3" fill="#fff"/>
<rect x="259" y="332" width="5" height="2" fill="#fff"/>
<rect x="257" y="324" width="1" height="8" fill="#fff"/>
<rect x="52" y="324" width="5" height="1" fill="#fff"/>
<rect x="54" y="325" width="3" height="2" fill="#fff"/>
<rect x="52" y="327" width="1" height="1" fill="#fff"/>
<rect x="58" y="323" width="1" height="5" fill="#fff"/>
<rect x="52" y="328" width="7" height="4" fill="#fff"/>
<rect x="250" y="324" width="5" height="1" fill="#fff"/>
<rect x="250" y="325" width="3" height="2" fill="#fff"/>
<rect x="254" y="327" width="1" height="1" fill="#fff"/>
<rect x="248" y="323" width="1" height="5" fill="#fff"/>
<rect x="248" y="328" width="7" height="4" fill="#fff"/>
<rect x="58" y="323" width="191" height="1" fill="#fff"/>
<rect x="60" y="324" width="1" height="10" fill="#fff"/>
<rect x="246" y="324" width="1" height="10" fill="#fff"/>
<rect x="52" y="333" width="206" height="1" fill="#fff"/>
<rect x="150" y="324" width="7" height="4" fill="#fff"/>
<rect x="63" y="328" width="1" height="4" fill="#fff"/>
<rect x="65" y="328" width="1" height="4" fill="#fff"/>
<rect x="74" y="328" width="1" height="4" fill="#fff"/>
<rect x="76" y="328" width="1" height="4" fill="#fff"/>
<rect x="78" y="328" width="1" height="4" fill="#fff"/>
<rect x="80" y="328" width="1" height="4" fill="#fff"/>
<rect x="82" y="328" width="1" height="4" fill="#fff"/>
<rect x="89" y="328" width="1" height="4" fill="#fff"/>
<rect x="91" y="328" width="1" height="4" fill="#fff"/>
<rect x="93" y="328" width="1" height="4" fill="#fff"/>
<rect x="95" y="328" width="1" height="4" fill="#fff"/>
<rect x="97" y="328" width="1" height="4" fill="#fff"/>
<rect x="104" y="328" width="1" height="4" fill="#fff"/>
<rect x="106" y="328" width="1" height="4" fill="#fff"/>
<rect x="108" y="328" width="1" height="4" fill="#fff"/>
<rect x="110" y="328" width="1" height="4" fill="#fff"/>
<rect x="112" y="328" width="1" height="4" fill="#fff"/>
<rect x="121" y="328" width="1" height="4" fill="#fff"/>
<rect x="123" y="328" width="1" height="4" fill="#fff"/>
<rect x="125" y="328" width="1" height="4" fill="#fff"/>
<rect x="178" y="328" width="1" height="4" fill="#fff"/>
<rect x="180" y="328" width="1" height="4" fill="#fff"/>
<rect x="189" y="328" width="1" height="4" fill="#fff"/>
<rect x="191" y="328" width="1" height="4" fill="#fff"/>
<rect x="193" y="328" width="1" height="4" fill="#fff"/>
<rect x="195" y="328" width="1" height="4" fill="#fff"/>
<rect x="202" y="328" width="1" height="4" fill="#fff"/>
<rect x="204" y="328" width="1" height="4" fill="#fff"/>
<rect x="206" y="328" width="1" height="4" fill="#fff"/>
<rect x="208" y="328" width="1" height="4" fill="#fff"/>
<rect x="210" y="328" width="1" height="4" fill="#fff"/>
<rect x="219" y="328" width="1" height="4" fill="#fff"/>
<rect x="221" y="328" width="1" height="4" fill="#fff"/>
<rect x="223" y="328" width="1" height="4" fill="#fff"/>
<rect x="234" y="328" width="1" height="4" fill="#fff"/>
<rect x="236" y="328" width="1" height="4" fill="#fff"/>
<rect x="238" y="328" width="1" height="4" fill="#fff"/>
<rect x="240" y="328" width="1" height="4" fill="#fff"/>
<rect x="43" y="336" width="6" height="4" fill="#fff"/>
<rect x="43" y="341" width="6" height="4" fill="#fff"/>
<rect x="43" y="346" width="6" height="1" fill="#fff"/>
<rect x="259" y="336" width="5" height="4" fill="#fff"/>
<rect x="259" y="341" width="5" height="4" fill="#fff"/>
<rect x="259" y="346" width="5" height="1" fill="#fff"/>
<rect x="257" y="337" width="1" height="8" fill="#fff"/>
<rect x="257" y="346" width="1" height="1" fill="#fff"/>
<rect x="52" y="337" width="5" height="2" fill="#fff"/>
<rect x="54" y="339" width="3" height="2" fill="#fff"/>
<rect x="52" y="340" width="1" height="2" fill="#fff"/>
<rect x="58" y="336" width="1" height="6" fill="#fff"/>
<rect x="52" y="342" width="7" height="3" fill="#fff"/>
<rect x="250" y="337" width="5" height="2" fill="#fff"/>
<rect x="250" y="339" width="3" height="2" fill="#fff"/>
<rect x="254" y="340" width="1" height="2" fill="#fff"/>
<rect x="248" y="336" width="1" height="6" fill="#fff"/>
<rect x="248" y="342" width="7" height="3" fill="#fff"/>
<rect x="58" y="336" width="191" height="1" fill="#fff"/>
<rect x="60" y="337" width="1" height="10" fill="#fff"/>
<rect x="246" y="337" width="1" height="10" fill="#fff"/>
<rect x="52" y="346" width="10" height="1" fill="#fff"/>
<rect x="245" y="346" width="10" height="1" fill="#fff"/>
<polygon points="150.5,343 156.5,343 157.6,347 149.1,347" fill="#fff"/>
<rect x="63" y="342" width="1" height="3" fill="#fff"/>
<rect x="65" y="342" width="1" height="3" fill="#fff"/>
<rect x="74" y="342" width="1" height="3" fill="#fff"/>
<rect x="76" y="342" width="1" height="3" fill="#fff"/>
<rect x="78" y="342" width="1" height="3" fill="#fff"/>
<rect x="80" y="342" width="1" height="3" fill="#fff"/>
<rect x="82" y="342" width="1" height="3" fill="#fff"/>
<rect x="76" y="346" width="1" height="1" fill="#fff"/>
<rect x="78" y="346" width="1" height="1" fill="#fff"/>
<rect x="80" y="346" width="1" height="1" fill="#fff"/>
<rect x="89" y="342" width="1" height="3" fill="#fff"/>
<rect x="91" y="342" width="1" height="3" fill="#fff"/>
<rect x="93" y="342" width="1" height="3" fill="#fff"/>
<rect x="95" y="342" width="1" height="3" fill="#fff"/>
<rect x="97" y="342" width="1" height="3" fill="#fff"/>
<rect x="91" y="346" width="1" height="1" fill="#fff"/>
<rect x="93" y="346" width="1" height="1" fill="#fff"/>
<rect x="95" y="346" width="1" height="1" fill="#fff"/>
<rect x="104" y="342" width="1" height="3" fill="#fff"/>
<rect x="106" y="342" width="1" height="3" fill="#fff"/>
<rect x="108" y="342" width="1" height="3" fill="#fff"/>
<rect x="110" y="342" width="1" height="3" fill="#fff"/>
<rect x="112" y="342" width="1" height="3" fill="#fff"/>
<rect x="106" y="346" width="1" height="1" fill="#fff"/>
<rect x="108" y="346" width="1" height="1" fill="#fff"/>
<rect x="110" y="346" width="1" height="1" fill="#fff"/>
<rect x="121" y="342" width="1" height="3" fill="#fff"/>
<rect x="123" y="342" width="1" height="3" fill="#fff"/>
<rect x="125" y="342" width="1" height="3" fill="#fff"/>
<rect x="123" y="346" width="1" height="1" fill="#fff"/>
<rect x="136" y="342" width="1" height="3" fill="#fff"/>
<rect x="138" y="342" width="1" height="3" fill="#fff"/>
<rect x="140" y="342" width="1" height="3" fill="#fff"/>
<rect x="142" y="342" width="1" height="3" fill="#fff"/>
<rect x="138" y="346" width="1" height="1" fill="#fff"/>
<rect x="140" y="346" width="1" height="1" fill="#fff"/>
<rect x="159" y="342" width="1" height="3" fill="#fff"/>
<rect x="161" y="342" width="1" height="3" fill="#fff"/>
<rect x="163" y="342" width="1" height="3" fill="#fff"/>
<rect x="161" y="346" width="1" height="1" fill="#fff"/>
<rect x="163" y="346" width="1" height="1" fill="#fff"/>
<rect x="172" y="342" width="1" height="3" fill="#fff"/>
<rect x="174" y="342" width="1" height="3" fill="#fff"/>
<rect x="176" y="342" width="1" height="3" fill="#fff"/>
<rect x="178" y="342" width="1" height="3" fill="#fff"/>
<rect x="180" y="342" width="1" height="3" fill="#fff"/>
<rect x="174" y="346" width="1" height="1" fill="#fff"/>
<rect x="176" y="346" width="1" height="1" fill="#fff"/>
<rect x="178" y="346" width="1" height="1" fill="#fff"/>
<rect x="189" y="342" width="1" height="3" fill="#fff"/>
<rect x="191" y="342" width="1" height="3" fill="#fff"/>
<rect x="193" y="342" width="1" height="3" fill="#fff"/>
<rect x="195" y="342" width="1" height="3" fill="#fff"/>
<rect x="191" y="346" width="1" height="1" fill="#fff"/>
<rect x="193" y="346" width="1" height="1" fill="#fff"/>
<rect x="202" y="342" width="1" height="3" fill="#fff"/>
<rect x="204" y="342" width="1" height="3" fill="#fff"/>
<rect x="206" y="342" width="1" height="3" fill="#fff"/>
<rect x="208" y="342" width="1" height="3" fill="#fff"/>
<rect x="210" y="342" width="1" height="3" fill="#fff"/>
<rect x="204" y="346" width="1" height="1" fill="#fff"/>
<rect x="206" y="346" width="1" height="1" fill="#fff"/>
<rect x="208" y="346" width="1" height="1" fill="#fff"/>
<rect x="219" y="342" width="1" height="3" fill="#fff"/>
<rect x="221" y="342" width="1" height="3" fill="#fff"/>
<rect x="223" y="342" width="1" height="3" fill="#fff"/>
<rect x="221" y="346" width="1" height="1" fill="#fff"/>
<rect x="223" y="346" width="1" height="1" fill="#fff"/>
<rect x="234" y="342" width="1" height="3" fill="#fff"/>
<rect x="236" y="342" width="1" height="3" fill="#fff"/>
<rect x="238" y="342" width="1" height="3" fill="#fff"/>
<rect x="240" y="342" width="1" height="3" fill="#fff"/>
<rect x="236" y="346" width="1" height="1" fill="#fff"/>
<rect x="238" y="346" width="1" height="1" fill="#fff"/>
<rect x="129" y="332" width="48" height="5" fill="#000"/>
<rect x="131" y="330" width="44" height="11" fill="#fff"/>
<text transform="translate(152.5,337.8) scale(0.96,1)" font-size="11" text-anchor="middle" fill="#000" stroke="#000" stroke-width="0.25" font-family="Liberation Sans, sans-serif" letter-spacing="0.1">BANK 1</text>
<rect x="42" y="349" width="223" height="26" fill="#000"/>
<rect x="43" y="350" width="6" height="4" fill="#fff"/>
<rect x="43" y="355" width="6" height="3" fill="#fff"/>
<rect x="43" y="359" width="6" height="2" fill="#fff"/>
<rect x="259" y="350" width="5" height="4" fill="#fff"/>
<rect x="259" y="355" width="5" height="3" fill="#fff"/>
<rect x="259" y="359" width="5" height="2" fill="#fff"/>
<rect x="257" y="351" width="1" height="8" fill="#fff"/>
<rect x="52" y="351" width="5" height="1" fill="#fff"/>
<rect x="54" y="352" width="3" height="2" fill="#fff"/>
<rect x="52" y="354" width="1" height="1" fill="#fff"/>
<rect x="58" y="350" width="1" height="5" fill="#fff"/>
<rect x="52" y="355" width="7" height="4" fill="#fff"/>
<rect x="250" y="351" width="5" height="1" fill="#fff"/>
<rect x="250" y="352" width="3" height="2" fill="#fff"/>
<rect x="254" y="354" width="1" height="1" fill="#fff"/>
<rect x="248" y="350" width="1" height="5" fill="#fff"/>
<rect x="248" y="355" width="7" height="4" fill="#fff"/>
<rect x="58" y="350" width="191" height="1" fill="#fff"/>
<rect x="60" y="351" width="1" height="10" fill="#fff"/>
<rect x="246" y="351" width="1" height="10" fill="#fff"/>
<rect x="52" y="360" width="206" height="1" fill="#fff"/>
<rect x="150" y="351" width="7" height="4" fill="#fff"/>
<rect x="63" y="355" width="1" height="4" fill="#fff"/>
<rect x="65" y="355" width="1" height="4" fill="#fff"/>
<rect x="74" y="355" width="1" height="4" fill="#fff"/>
<rect x="76" y="355" width="1" height="4" fill="#fff"/>
<rect x="78" y="355" width="1" height="4" fill="#fff"/>
<rect x="80" y="355" width="1" height="4" fill="#fff"/>
<rect x="82" y="355" width="1" height="4" fill="#fff"/>
<rect x="89" y="355" width="1" height="4" fill="#fff"/>
<rect x="91" y="355" width="1" height="4" fill="#fff"/>
<rect x="93" y="355" width="1" height="4" fill="#fff"/>
<rect x="95" y="355" width="1" height="4" fill="#fff"/>
<rect x="97" y="355" width="1" height="4" fill="#fff"/>
<rect x="104" y="355" width="1" height="4" fill="#fff"/>
<rect x="106" y="355" width="1" height="4" fill="#fff"/>
<rect x="108" y="355" width="1" height="4" fill="#fff"/>
<rect x="110" y="355" width="1" height="4" fill="#fff"/>
<rect x="112" y="355" width="1" height="4" fill="#fff"/>
<rect x="121" y="355" width="1" height="4" fill="#fff"/>
<rect x="123" y="355" width="1" height="4" fill="#fff"/>
<rect x="125" y="355" width="1" height="4" fill="#fff"/>
<rect x="178" y="355" width="1" height="4" fill="#fff"/>
<rect x="180" y="355" width="1" height="4" fill="#fff"/>
<rect x="189" y="355" width="1" height="4" fill="#fff"/>
<rect x="191" y="355" width="1" height="4" fill="#fff"/>
<rect x="193" y="355" width="1" height="4" fill="#fff"/>
<rect x="195" y="355" width="1" height="4" fill="#fff"/>
<rect x="202" y="355" width="1" height="4" fill="#fff"/>
<rect x="204" y="355" width="1" height="4" fill="#fff"/>
<rect x="206" y="355" width="1" height="4" fill="#fff"/>
<rect x="208" y="355" width="1" height="4" fill="#fff"/>
<rect x="210" y="355" width="1" height="4" fill="#fff"/>
<rect x="219" y="355" width="1" height="4" fill="#fff"/>
<rect x="221" y="355" width="1" height="4" fill="#fff"/>
<rect x="223" y="355" width="1" height="4" fill="#fff"/>
<rect x="234" y="355" width="1" height="4" fill="#fff"/>
<rect x="236" y="355" width="1" height="4" fill="#fff"/>
<rect x="238" y="355" width="1" height="4" fill="#fff"/>
<rect x="240" y="355" width="1" height="4" fill="#fff"/>
<rect x="43" y="363" width="6" height="4" fill="#fff"/>
<rect x="43" y="368" width="6" height="4" fill="#fff"/>
<rect x="43" y="373" width="6" height="1" fill="#fff"/>
<rect x="259" y="363" width="5" height="4" fill="#fff"/>
<rect x="259" y="368" width="5" height="4" fill="#fff"/>
<rect x="259" y="373" width="5" height="1" fill="#fff"/>
<rect x="257" y="364" width="1" height="8" fill="#fff"/>
<rect x="257" y="373" width="1" height="1" fill="#fff"/>
<rect x="52" y="364" width="5" height="2" fill="#fff"/>
<rect x="54" y="366" width="3" height="2" fill="#fff"/>
<rect x="52" y="367" width="1" height="2" fill="#fff"/>
<rect x="58" y="363" width="1" height="6" fill="#fff"/>
<rect x="52" y="369" width="7" height="3" fill="#fff"/>
<rect x="250" y="364" width="5" height="2" fill="#fff"/>
<rect x="250" y="366" width="3" height="2" fill="#fff"/>
<rect x="254" y="367" width="1" height="2" fill="#fff"/>
<rect x="248" y="363" width="1" height="6" fill="#fff"/>
<rect x="248" y="369" width="7" height="3" fill="#fff"/>
<rect x="58" y="363" width="191" height="1" fill="#fff"/>
<rect x="60" y="364" width="1" height="10" fill="#fff"/>
<rect x="246" y="364" width="1" height="10" fill="#fff"/>
<rect x="52" y="373" width="10" height="1" fill="#fff"/>
<rect x="245" y="373" width="10" height="1" fill="#fff"/>
<polygon points="150.5,370 156.5,370 157.6,374 149.1,374" fill="#fff"/>
<rect x="63" y="369" width="1" height="3" fill="#fff"/>
<rect x="65" y="369" width="1" height="3" fill="#fff"/>
<rect x="74" y="369" width="1" height="3" fill="#fff"/>
<rect x="76" y="369" width="1" height="3" fill="#fff"/>
<rect x="78" y="369" width="1" height="3" fill="#fff"/>
<rect x="80" y="369" width="1" height="3" fill="#fff"/>
<rect x="82" y="369" width="1" height="3" fill="#fff"/>
<rect x="76" y="373" width="1" height="1" fill="#fff"/>
<rect x="78" y="373" width="1" height="1" fill="#fff"/>
<rect x="80" y="373" width="1" height="1" fill="#fff"/>
<rect x="89" y="369" width="1" height="3" fill="#fff"/>
<rect x="91" y="369" width="1" height="3" fill="#fff"/>
<rect x="93" y="369" width="1" height="3" fill="#fff"/>
<rect x="95" y="369" width="1" height="3" fill="#fff"/>
<rect x="97" y="369" width="1" height="3" fill="#fff"/>
<rect x="91" y="373" width="1" height="1" fill="#fff"/>
<rect x="93" y="373" width="1" height="1" fill="#fff"/>
<rect x="95" y="373" width="1" height="1" fill="#fff"/>
<rect x="104" y="369" width="1" height="3" fill="#fff"/>
<rect x="106" y="369" width="1" height="3" fill="#fff"/>
<rect x="108" y="369" width="1" height="3" fill="#fff"/>
<rect x="110" y="369" width="1" height="3" fill="#fff"/>
<rect x="112" y="369" width="1" height="3" fill="#fff"/>
<rect x="106" y="373" width="1" height="1" fill="#fff"/>
<rect x="108" y="373" width="1" height="1" fill="#fff"/>
<rect x="110" y="373" width="1" height="1" fill="#fff"/>
<rect x="121" y="369" width="1" height="3" fill="#fff"/>
<rect x="123" y="369" width="1" height="3" fill="#fff"/>
<rect x="125" y="369" width="1" height="3" fill="#fff"/>
<rect x="123" y="373" width="1" height="1" fill="#fff"/>
<rect x="136" y="369" width="1" height="3" fill="#fff"/>
<rect x="138" y="369" width="1" height="3" fill="#fff"/>
<rect x="140" y="369" width="1" height="3" fill="#fff"/>
<rect x="142" y="369" width="1" height="3" fill="#fff"/>
<rect x="138" y="373" width="1" height="1" fill="#fff"/>
<rect x="140" y="373" width="1" height="1" fill="#fff"/>
<rect x="159" y="369" width="1" height="3" fill="#fff"/>
<rect x="161" y="369" width="1" height="3" fill="#fff"/>
<rect x="163" y="369" width="1" height="3" fill="#fff"/>
<rect x="161" y="373" width="1" height="1" fill="#fff"/>
<rect x="163" y="373" width="1" height="1" fill="#fff"/>
<rect x="172" y="369" width="1" height="3" fill="#fff"/>
<rect x="174" y="369" width="1" height="3" fill="#fff"/>
<rect x="176" y="369" width="1" height="3" fill="#fff"/>
<rect x="178" y="369" width="1" height="3" fill="#fff"/>
<rect x="180" y="369" width="1" height="3" fill="#fff"/>
<rect x="174" y="373" width="1" height="1" fill="#fff"/>
<rect x="176" y="373" width="1" height="1" fill="#fff"/>
<rect x="178" y="373" width="1" height="1" fill="#fff"/>
<rect x="189" y="369" width="1" height="3" fill="#fff"/>
<rect x="191" y="369" width="1" height="3" fill="#fff"/>
<rect x="193" y="369" width="1" height="3" fill="#fff"/>
<rect x="195" y="369" width="1" height="3" fill="#fff"/>
<rect x="191" y="373" width="1" height="1" fill="#fff"/>
<rect x="193" y="373" width="1" height="1" fill="#fff"/>
<rect x="202" y="369" width="1" height="3" fill="#fff"/>
<rect x="204" y="369" width="1" height="3" fill="#fff"/>
<rect x="206" y="369" width="1" height="3" fill="#fff"/>
<rect x="208" y="369" width="1" height="3" fill="#fff"/>
<rect x="210" y="369" width="1" height="3" fill="#fff"/>
<rect x="204" y="373" width="1" height="1" fill="#fff"/>
<rect x="206" y="373" width="1" height="1" fill="#fff"/>
<rect x="208" y="373" width="1" height="1" fill="#fff"/>
<rect x="219" y="369" width="1" height="3" fill="#fff"/>
<rect x="221" y="369" width="1" height="3" fill="#fff"/>
<rect x="223" y="369" width="1" height="3" fill="#fff"/>
<rect x="221" y="373" width="1" height="1" fill="#fff"/>
<rect x="223" y="373" width="1" height="1" fill="#fff"/>
<rect x="234" y="369" width="1" height="3" fill="#fff"/>
<rect x="236" y="369" width="1" height="3" fill="#fff"/>
<rect x="238" y="369" width="1" height="3" fill="#fff"/>
<rect x="240" y="369" width="1" height="3" fill="#fff"/>
<rect x="236" y="373" width="1" height="1" fill="#fff"/>
<rect x="238" y="373" width="1" height="1" fill="#fff"/>
<rect x="129" y="359" width="48" height="5" fill="#000"/>
<rect x="131" y="357" width="44" height="11" fill="#fff"/>
<text transform="translate(152.5,364.8) scale(0.96,1)" font-size="11" text-anchor="middle" fill="#000" stroke="#000" stroke-width="0.25" font-family="Liberation Sans, sans-serif" letter-spacing="0.1">BANK 0</text>
<rect x="310" y="386" width="5" height="16" fill="#000"/>
<rect x="311" y="387" width="3" height="1" fill="#fff"/>
<rect x="311" y="391" width="3" height="1" fill="#fff"/>
<rect x="311" y="396" width="3" height="1" fill="#fff"/>
<rect x="319" y="383" width="6" height="21" fill="#000"/>
<rect x="320" y="384" width="4" height="1" fill="#fff"/>
<rect x="320" y="388" width="4" height="1" fill="#fff"/>
<rect x="320" y="393" width="4" height="1" fill="#fff"/>
<rect x="320" y="402" width="4" height="1" fill="#fff"/>
<polygon points="266.2,386 296.8,386 298,387.2 298,399.8 296.8,401 266.2,401 265,399.8 265,387.2" fill="#000"/>
<polygon points="267,388 296,388 296,388 296,399 296,399 267,399 267,399 267,388" fill="#fff"/>
<polygon points="297.3,395.9 301.1,394.5 307,394.5 307.6,393.2 310,393.2 310,392.2 307.6,392.2 307,390.9 301.1,390.9 297.3,389.5" fill="#000"/>
<polygon points="295.4,393.7 297.6,393.5 299.8,392.95 299.8,392.45 297.6,391.9 295.4,391.7" fill="#fff"/>
<text transform="translate(282,395.9) scale(0.96,1)" font-size="11" text-anchor="middle" fill="#000" stroke="#000" stroke-width="0.25" font-family="Liberation Sans, sans-serif">CN14</text>
<polygon points="339.2,386 368.8,386 370,387.2 370,400.8 368.8,402 339.2,402 337.2,400 337.2,398 333.7,395.5 333.7,391.5 337.2,389 337.2,388" fill="#000"/>
<polygon points="340,388 368,388 368,400 340,400 339.2,399.2 339.2,396.9 336.3,394.4 336.3,392.6 339.2,390.1 339.2,388.8" fill="#fff"/>
<polygon points="334.4,391.3 333.5,391.5 328,391.5 327.4,392.6 325,392.6 325,394.4 327.4,394.4 328,395.5 333.5,395.5 334.4,395.7" fill="#000"/>
<polygon points="336.9,392.2 334.1,392.46 333.1,393.25 333.1,393.75 334.1,394.54 336.9,394.8" fill="#fff"/>
<text transform="translate(353.1,396.9) scale(0.96,1)" font-size="11" text-anchor="middle" fill="#000" stroke="#000" stroke-width="0.25" font-family="Liberation Sans, sans-serif">CN13</text>
<ellipse cx="314.4" cy="468.2" rx="81" ry="27.7" fill="none" stroke="#000" stroke-width="1.05"/>
<polygon points="278.6,453 309.4,453 311,454.6 311,466.4 309.4,468 278.6,468 277,466.4 277,454.6" fill="#000"/>
<polygon points="279.4,455 308.6,455 309,455.4 309,465.6 308.6,466 279.4,466 279,465.6 279,455.4" fill="#fff"/>
<polygon points="310.3,463.6 314.1,462.2 320.4,462.2 321,461.15 323.4,461.15 323.4,459.65 321,459.65 320.4,458.6 314.1,458.6 310.3,457.2" fill="#000"/>
<polygon points="308.4,461.9 310.6,461.6 315.6,460.65 315.6,460.15 310.6,459.2 308.4,458.9" fill="#fff"/>
<text transform="translate(294.3,463.9) scale(0.96,1)" font-size="11" text-anchor="middle" fill="#000" stroke="#000" stroke-width="0.25" font-family="Liberation Sans, sans-serif">RSV2</text>
<rect x="323.2" y="458.2" width="10.6" height="5.4" fill="#000"/>
<rect x="327.6" y="459" width="1.1" height="3.8" fill="#fff"/>
<text transform="translate(314.5,480) scale(0.95,1)" font-size="11" text-anchor="middle" fill="#000" stroke="#000" stroke-width="0.15" font-family="Liberation Sans, sans-serif" letter-spacing="0.25">LOCATION UNIDENTIFIED</text>
</svg>
</body></html>
